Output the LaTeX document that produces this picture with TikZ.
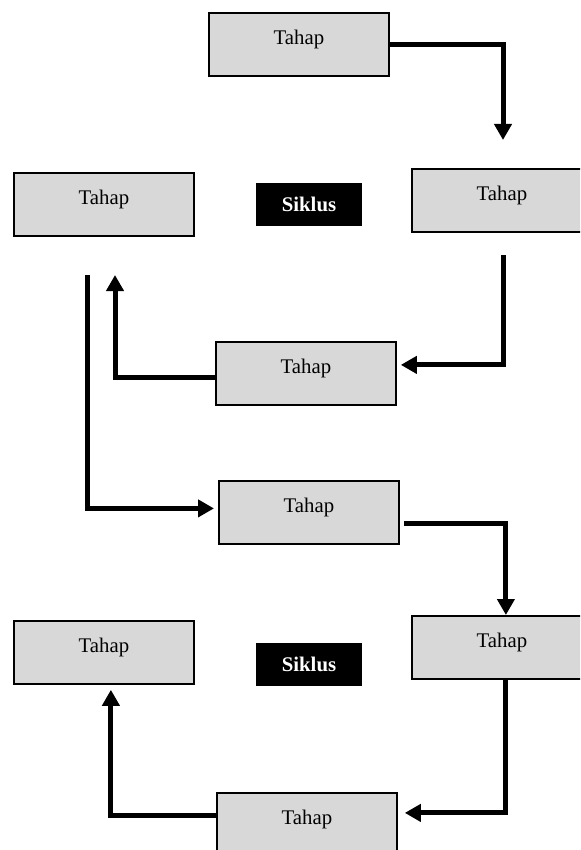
\documentclass[tikz,border=0pt]{standalone}
\usepackage{fontspec}
\setmainfont{Liberation Serif}
\usepackage{tikz}
\usetikzlibrary{arrows.meta,calc,positioning}
\definecolor{boxgray}{HTML}{D8D8D8}

\begin{document}
\begin{tikzpicture}[x=0.5pt,y=-0.5pt,
		tahap/.style={draw,fill=boxgray,line width=0.9pt,anchor=north west,inner sep=0pt,
			minimum width=90pt,text height=16pt,text depth=15.5pt,
			font=\fontsize{10.4}{12}\selectfont},
		siklus/.style={fill=black,text=white,inner sep=0pt,minimum width=53pt,minimum height=21.5pt,
			font=\fontsize{10.4}{12}\selectfont\bfseries},
		arr/.style={line width=2.5pt,-{Triangle[length=8pt,width=8.5pt]}}]
			\useasboundingbox (0,0) rectangle (580,850);
			\clip (0,0) rectangle (580,850);
			\node[tahap] (t1) at (208,12) {Tahap};
			\node[tahap] (t2) at (13,172) {Tahap};
			\node[tahap] (t3) at (411,168) {Tahap};
			\node[tahap] (t4) at (215,341) {Tahap};
			\node[tahap] (t5) at (218,480) {Tahap};
			\node[tahap] (t6) at (13,620) {Tahap};
			\node[tahap] (t7) at (411,615) {Tahap};
			\node[tahap] (t8) at (216,792) {Tahap};
			\node[siklus] (s1) at (309,204.5) {Siklus};
			\node[siklus] (s2) at (309,664.5) {Siklus};
			\coordinate (c1) at (503,140);
			\coordinate (c2) at (503,255);
			\coordinate (c4) at (115,275);
			\coordinate (c5) at (87,275);
			\draw[arr] (t1.east) -| (c1);
			\draw[arr] (c2) |- ($(t4.east)+(4,-8.5)$);
			\draw[arr] ($(t4.west)+(0,4.5)$) -| (c4);
			\draw[arr] (c5) |- ($(t5.west)+(-4,-4)$);
			\draw[arr] ($(t5.east)+(4,11)$) -| ($(t7.north)+(4,0)$);
			\draw[arr] ($(t7.south)+(4,0)$) |- ($(t8.east)+(7,-11.5)$);
			\draw[arr] ($(t8.west)+(0,-8.5)$) -| ($(t6.south)+(7,5)$);
\end{tikzpicture}
\end{document}
